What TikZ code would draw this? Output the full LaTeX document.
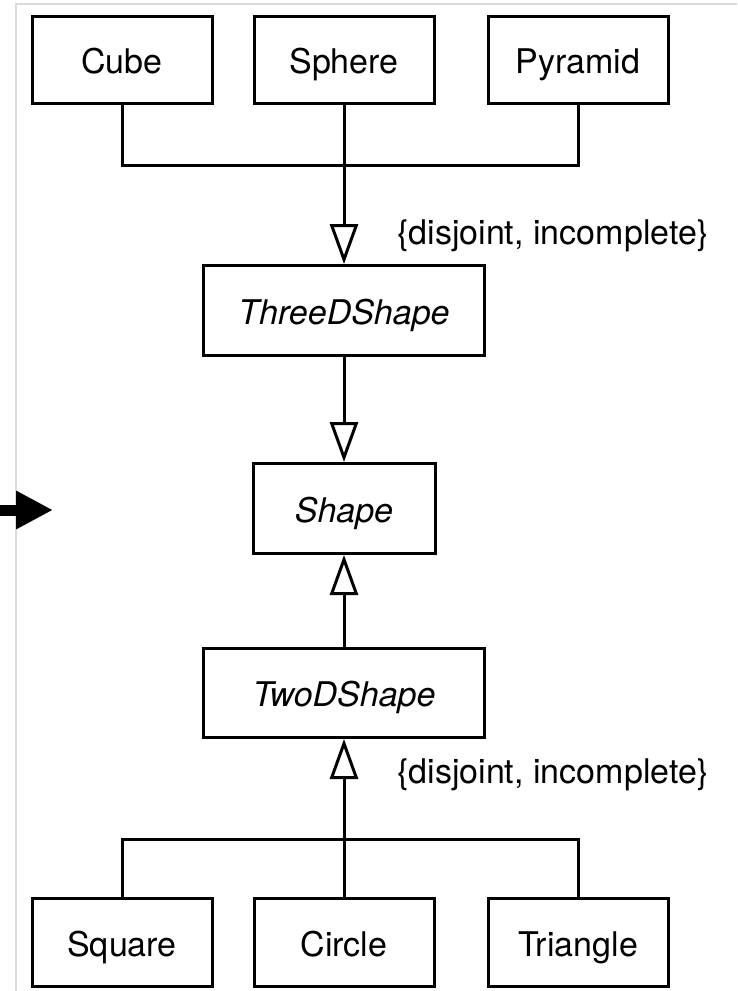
\documentclass[tikz,border=0pt]{standalone}
\usepackage{fontspec}
\setmainfont{TeX Gyre Heros}
\usetikzlibrary{arrows.meta}

\tikzset{
  classbox/.style={draw, line width=3pt, inner sep=0pt,
    minimum width=180pt, minimum height=87pt,
    text height=27pt, text depth=0pt,
    font=\fontsize{34}{40}\selectfont},
  widebox/.style={classbox, minimum width=281pt, minimum height=90pt},
  abstract/.style={font=\fontsize{34}{40}\selectfont\itshape},
  wire/.style={line width=3pt},
  generalize/.style={wire, line join=miter,
    -{Triangle[open, length=40pt, width=28pt]}},
  constraint/.style={anchor=west, inner sep=0pt,
    font=\fontsize{34}{40}\selectfont},
  pointer/.style={line width=11pt, -{Triangle[length=37pt, width=36pt]}},
  frameline/.style={black!14, line width=2pt}
}

\begin{document}
\begin{tikzpicture}[x=1pt, y=1pt]
  \useasboundingbox (0,0) rectangle (737,-991);

  % light frame along the top and left edges
  \draw[frameline] (16,-991) -- (16,-3.5) -- (737,-3.5);

  % three-dimensional shapes
  \node[classbox] (cube)    at (122,-60) {Cube};
  \node[classbox] (sphere)  at (344,-60) {Sphere};
  \node[classbox] (pyramid) at (578,-60) {Pyramid};

  \node[widebox, abstract] (three) at (344,-310.5) {ThreeDShape};
  \node[classbox, abstract, minimum width=182pt, minimum height=90pt]
       (shape) at (344,-508.5) {Shape};
  \node[widebox, abstract, minimum height=89pt] (two) at (344,-693) {TwoDShape};

  % two-dimensional shapes
  \node[classbox, minimum height=88pt] (square)   at (122,-942.5) {Square};
  \node[classbox, minimum height=88pt] (circle)   at (344,-942.5) {Circle};
  \node[classbox, minimum height=88pt] (triangle) at (578,-942.5) {Triangle};

  % generalization sets
  \coordinate (topbus) at (344,-165);
  \coordinate (lowbus) at (344,-839);

  \draw[wire] (cube.south) -- (cube.south |- topbus)
              -- (pyramid.south |- topbus) -- (pyramid.south);
  \draw[generalize] (sphere.south) -- (three.north);
  \node[constraint] (c1) at (397,-236) {\{disjoint, incomplete\}};

  \draw[generalize] (three.south) -- (shape.north);
  \draw[generalize] (two.north) -- (shape.south);

  \draw[wire] (square.north) -- (square.north |- lowbus)
              -- (triangle.north |- lowbus) -- (triangle.north);
  \draw[generalize] (circle.north) -- (two.south);
  \node[constraint] (c2) at (397,-775) {\{disjoint, incomplete\}};

  % pointer at the left edge
  \coordinate (ptail) at (0,-510);
  \coordinate (phead) at (53,-510);
  \draw[pointer] (ptail) -- (phead);
\end{tikzpicture}
\end{document}
